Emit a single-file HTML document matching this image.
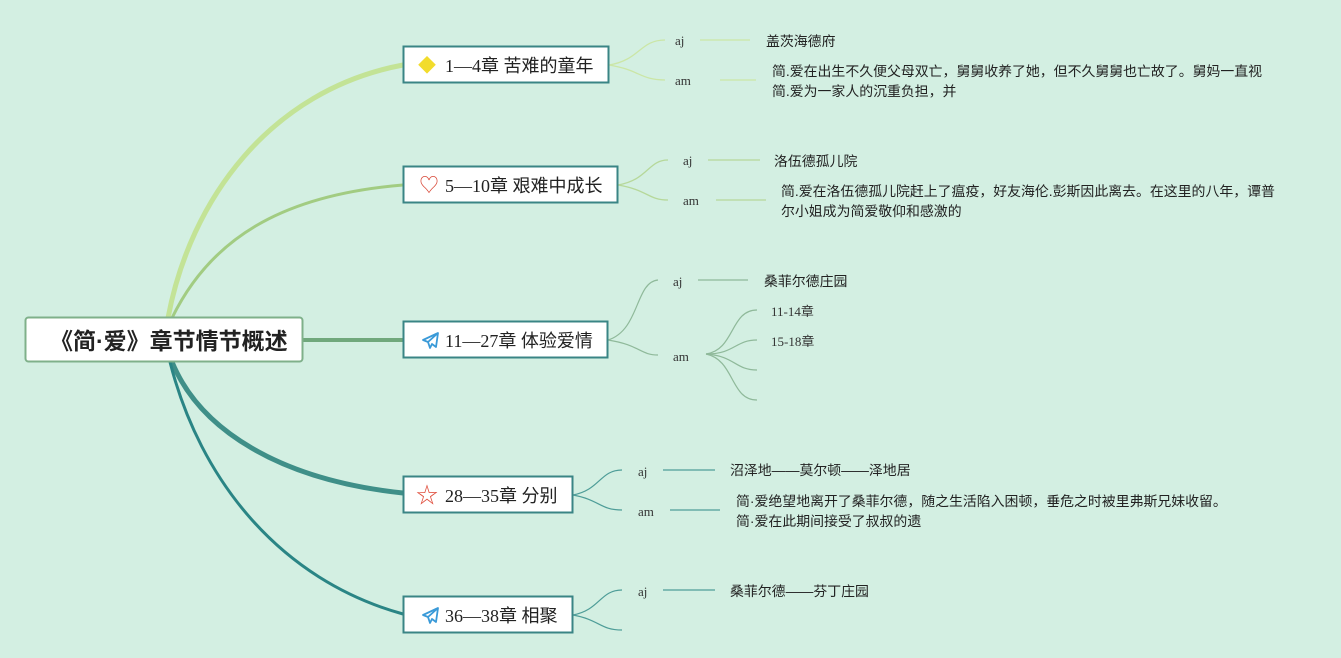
<!DOCTYPE html>
<html><head><meta charset="utf-8"><style>
html,body{margin:0;padding:0;background:#d3efe2;}
svg{display:block;}
text{font-family:"Liberation Sans","Noto Sans CJK SC",sans-serif;fill:#222;}
.s{font-family:"Liberation Serif","Noto Sans CJK SC",serif;font-size:13px;fill:#333;}
.t{font-size:13.9px;}
.b{font-family:"Liberation Serif","Noto Sans CJK SC",serif;font-size:18px;fill:#222;}
</style></head><body>
<svg width="1341" height="658" viewBox="0 0 1341 658" xmlns="http://www.w3.org/2000/svg">
<rect width="1341" height="658" fill="#d3efe2"/>
<path d="M168 318 C190 200 270 90 403 65" fill="none" stroke="#c3e396" stroke-width="5"/>
<path d="M172 318 C210 240 280 195 403 185" fill="none" stroke="#a2cc82" stroke-width="3"/>
<path d="M303 340 L403 340" fill="none" stroke="#70a87c" stroke-width="4"/>
<path d="M172 362 C200 430 280 480 403 493" fill="none" stroke="#3f8f88" stroke-width="5"/>
<path d="M170 362 C200 480 280 580 403 614" fill="none" stroke="#2a8585" stroke-width="3"/>
<rect x="25.5" y="317.5" width="277" height="44" rx="3" fill="#fff" stroke="#7fb08a" stroke-width="2"/>
<text x="50" y="349" style="font-size:23px;font-weight:bold;">《简·爱》章节情节概述</text>
<g fill="none" stroke="#cbe6a6" stroke-width="1.3">
<path d="M609 65 C640 60 640 40 665 40"/><path d="M609 65 C640 70 640 80 665 80"/>
<path d="M700 40 L750 40"/><path d="M720 80 L756 80"/>
</g>
<rect x="403.5" y="46.5" width="205" height="36" fill="#fff" stroke="#3a8585" stroke-width="2"/>
<text x="418" y="72" style="font-size:18px;fill:#f2dc2c;">◆</text>
<text x="445" y="72" class="b">1—4章 苦难的童年</text>
<text x="675" y="45" class="s">aj</text><text x="675" y="85" class="s">am</text>
<text x="766" y="46" class="t">盖茨海德府</text>
<text x="772" y="76" class="t">简.爱在出生不久便父母双亡，舅舅收养了她，但不久舅舅也亡故了。舅妈一直视</text>
<text x="772" y="96" class="t">简.爱为一家人的沉重负担，并</text>
<g fill="none" stroke="#b6d89a" stroke-width="1.3">
<path d="M618 185 C648 180 648 160 668 160"/><path d="M618 185 C648 190 648 200 668 200"/>
<path d="M708 160 L760 160"/><path d="M716 200 L766 200"/>
</g>
<rect x="403.5" y="166.5" width="214" height="36" fill="#fff" stroke="#3a8585" stroke-width="2"/>
<text x="419" y="192" style="font-size:20px;fill:#d94a3a;">♡</text>
<text x="445" y="192" class="b">5—10章 艰难中成长</text>
<text x="683" y="165" class="s">aj</text><text x="683" y="205" class="s">am</text>
<text x="774" y="166" class="t">洛伍德孤儿院</text>
<text x="781" y="196" class="t">简.爱在洛伍德孤儿院赶上了瘟疫，好友海伦.彭斯因此离去。在这里的八年，谭普</text>
<text x="781" y="216" class="t">尔小姐成为简爱敬仰和感激的</text>
<g fill="none" stroke="#8fb99a" stroke-width="1.2">
<path d="M608 340 C640 330 635 282 658 280"/><path d="M608 340 C640 345 640 355 658 355"/>
<path d="M698 280 L748 280"/>
<path d="M706 354 C735 350 730 310 757 310"/><path d="M706 354 C735 354 735 340 757 340"/>
<path d="M706 354 C735 356 735 370 757 370"/><path d="M706 354 C735 360 730 400 757 400"/>
</g>
<rect x="403.5" y="321.5" width="204" height="36" fill="#fff" stroke="#3a8585" stroke-width="2"/>
<path d="M438 333 L423 340 L428 342 L430 348 L432 344 L436 347 Z M428 342 L438 333" fill="none" stroke="#3a9ad8" stroke-width="1.8" stroke-linejoin="round"/>
<text x="445" y="347" class="b">11—27章 体验爱情</text>
<text x="673" y="286" class="s">aj</text><text x="673" y="361" class="s">am</text>
<text x="764" y="286" class="t">桑菲尔德庄园</text>
<text x="771" y="316" class="s">11-14章</text>
<text x="771" y="346" class="s">15-18章</text>
<g fill="none" stroke="#4e9d98" stroke-width="1.2">
<path d="M573 495 C600 490 600 470 622 470"/><path d="M573 495 C600 500 600 510 622 510"/>
<path d="M663 470 L715 470"/><path d="M670 510 L720 510"/>
</g>
<rect x="403.5" y="476.5" width="169" height="36" fill="#fff" stroke="#3a8585" stroke-width="2"/>
<text x="416" y="503" style="font-size:22px;fill:#e0503f;">☆</text>
<text x="445" y="502" class="b">28—35章 分别</text>
<text x="638" y="476" class="s">aj</text><text x="638" y="516" class="s">am</text>
<text x="730" y="475" class="t">沼泽地——莫尔顿——泽地居</text>
<text x="736" y="506" class="t">简·爱绝望地离开了桑菲尔德，随之生活陷入困顿，垂危之时被里弗斯兄妹收留。</text>
<text x="736" y="526" class="t">简·爱在此期间接受了叔叔的遗</text>
<g fill="none" stroke="#4e9d98" stroke-width="1.2">
<path d="M573 615 C600 610 600 590 622 590"/><path d="M573 615 C600 620 600 630 622 630"/>
<path d="M663 590 L715 590"/>
</g>
<rect x="403.5" y="596.5" width="169" height="36" fill="#fff" stroke="#3a8585" stroke-width="2"/>
<path d="M438 608 L423 615 L428 617 L430 623 L432 619 L436 622 Z M428 617 L438 608" fill="none" stroke="#3a9ad8" stroke-width="1.8" stroke-linejoin="round"/>
<text x="445" y="622" class="b">36—38章 相聚</text>
<text x="638" y="596" class="s">aj</text>
<text x="730" y="596" class="t">桑菲尔德——芬丁庄园</text>
</svg>
</body></html>
